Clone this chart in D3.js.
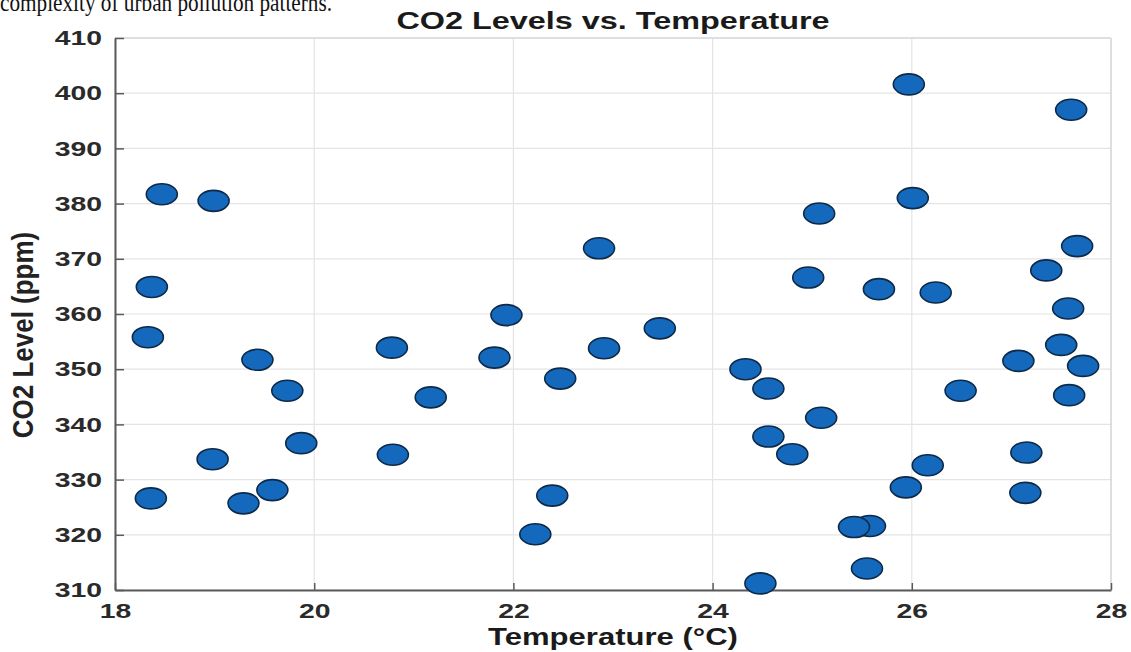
<!DOCTYPE html>
<html>
<head>
<meta charset="utf-8">
<script src="https://cdn.jsdelivr.net/npm/d3@7"></script>
<style>
  body { margin: 0; background: #fff; }
  svg { display: block; }
</style>
</head>
<body>
<script>
// data
var temperature = [18.47, 18.99, 18.37, 18.33, 19.43, 19.73, 19.87, 18.98, 18.36, 19.29,
    19.58, 20.78, 20.79, 21.17, 22.86, 21.93, 21.81, 22.91, 23.47, 22.47,
    22.39, 22.22, 25.97, 27.60, 26.01, 25.07, 27.66, 27.35, 24.96, 25.67,
    26.24, 27.57, 27.50, 27.07, 27.72, 24.33, 24.56, 25.09, 24.56, 24.80,
    26.16, 25.94, 25.58, 25.42, 25.55, 24.48, 27.15, 27.14, 27.58, 26.49];
var co2Level = [381.7, 380.5, 364.9, 355.8, 351.7, 346.1, 336.6, 333.7, 326.6, 325.7,
    328.1, 353.9, 334.5, 344.9, 371.9, 359.8, 352.1, 353.8, 357.4, 348.3,
    327.1, 320.1, 401.6, 397.0, 381.0, 378.2, 372.3, 367.9, 366.6, 364.5,
    363.9, 361.0, 354.4, 351.5, 350.6, 350.0, 346.5, 341.2, 337.8, 334.6,
    332.6, 328.6, 321.6, 321.4, 313.9, 311.2, 334.9, 327.6, 345.3, 346.1];
var xTicks = [18, 20, 22, 24, 26, 28];
var yTicks = [310, 320, 330, 340, 350, 360, 370, 380, 390, 400, 410];

var chartTitle = 'CO2 Levels vs. Temperature';
var xTitle = 'Temperature (°C)';
var yTitle = 'CO2 Level (ppm)';
var topLine = 'complexity of urban pollution patterns.';

var W = 1131, H = 652;
var plotL = 115, plotR = 1111, plotT = 38, plotB = 590;
var stretch = 1.35;  // the picture is squeezed wide
var font = 'Liberation Sans, Arial, Helvetica, sans-serif';

var points = temperature.map(function (t, i) { return { t: t, c: co2Level[i] }; });

var x = d3.scaleLinear().domain([18, 28]).range([plotL, plotR]);
var y = d3.scaleLinear().domain([310, 410]).range([plotB, plotT]);

var svg = d3.select('body').append('svg')
    .attr('width', W)
    .attr('height', H)
    .style('background', '#fff');

// leftover line of the page above the figure
svg.append('text')
    .attr('x', 0)
    .attr('y', 11)
    .attr('textLength', 332)
    .attr('lengthAdjust', 'spacingAndGlyphs')
    .style('font-family', 'Liberation Serif, Times New Roman, serif')
    .style('font-size', '25px')
    .style('fill', '#111')
    .text(topLine);

// grid
svg.append('g').selectAll('line')
    .data(xTicks)
    .enter().append('line')
    .attr('x1', function (d) { return x(d); })
    .attr('x2', function (d) { return x(d); })
    .attr('y1', plotT)
    .attr('y2', plotB)
    .attr('stroke', '#e4e4e4')
    .attr('stroke-width', 1.2);

svg.append('g').selectAll('line')
    .data(yTicks)
    .enter().append('line')
    .attr('x1', plotL)
    .attr('x2', plotR)
    .attr('y1', function (d) { return y(d); })
    .attr('y2', function (d) { return y(d); })
    .attr('stroke', '#e4e4e4')
    .attr('stroke-width', 1.2);

// light box on top and right
svg.append('line')
    .attr('x1', plotL).attr('x2', plotR).attr('y1', plotT).attr('y2', plotT)
    .attr('stroke', '#d8d8d8').attr('stroke-width', 1.5);
svg.append('line')
    .attr('x1', plotR).attr('x2', plotR).attr('y1', plotT).attr('y2', plotB)
    .attr('stroke', '#d8d8d8').attr('stroke-width', 1.5);

// axes
var xAxis = d3.axisBottom(x).tickValues(xTicks).tickFormat(d3.format('d'))
    .tickSizeInner(-7).tickSizeOuter(0).tickPadding(13);
var yAxis = d3.axisLeft(y).tickValues(yTicks).tickFormat(d3.format('d'))
    .tickSizeInner(-9).tickSizeOuter(0).tickPadding(13);

var gx = svg.append('g')
    .attr('transform', 'translate(0,' + plotB + ')')
    .call(xAxis);
var gy = svg.append('g')
    .attr('transform', 'translate(' + plotL + ',0)')
    .call(yAxis);

[gx, gy].forEach(function (g) {
    g.select('.domain').attr('stroke', '#5a5a5a').attr('stroke-width', 2);
    g.selectAll('.tick line').attr('stroke', '#5a5a5a').attr('stroke-width', 1.5);
    g.selectAll('.tick text')
        .style('font-family', font)
        .style('font-size', '21px')
        .style('font-weight', 'bold')
        .attr('fill', '#2a2a2a');
});
gx.selectAll('.tick text').attr('transform', 'scale(' + stretch + ',1)');
gy.selectAll('.tick text')
    .attr('x', 0)
    .attr('transform', 'translate(-13,0) scale(' + stretch + ',1)');

// markers
svg.append('g').selectAll('ellipse')
    .data(points)
    .enter().append('ellipse')
    .attr('cx', function (d) { return x(d.t); })
    .attr('cy', function (d) { return y(d.c); })
    .attr('rx', 15.5)
    .attr('ry', 10.5)
    .attr('fill', '#1469bd')
    .attr('stroke', '#0d2a48')
    .attr('stroke-width', 1.6);

// titles
svg.append('text')
    .attr('transform', 'translate(' + (plotL + plotR) / 2 + ',29) scale(' + stretch + ',1)')
    .attr('text-anchor', 'middle')
    .style('font-family', font)
    .style('font-size', '24px')
    .style('font-weight', 'bold')
    .style('fill', '#1a1a1a')
    .text(chartTitle);

svg.append('text')
    .attr('transform', 'translate(' + (plotL + plotR) / 2 + ',645) scale(' + stretch + ',1)')
    .attr('text-anchor', 'middle')
    .style('font-family', font)
    .style('font-size', '23px')
    .style('font-weight', 'bold')
    .style('fill', '#1a1a1a')
    .text(xTitle);

svg.append('text')
    .attr('transform', 'translate(33,335) scale(1.15,1) rotate(-90)')
    .attr('text-anchor', 'middle')
    .style('font-family', font)
    .style('font-size', '26px')
    .style('font-weight', 'bold')
    .style('fill', '#222')
    .text(yTitle);
</script>
</body>
</html>
